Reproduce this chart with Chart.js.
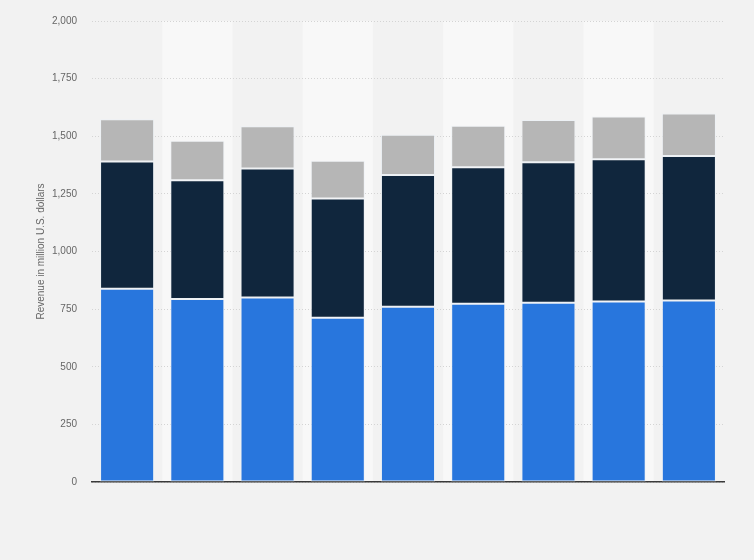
<!DOCTYPE html>
<html>
<head>
<meta charset="utf-8">
<script src="https://cdn.jsdelivr.net/npm/chart.js@4/dist/chart.umd.min.js"></script>
<style>
  html, body { margin: 0; padding: 0; background: #f2f2f2; }
  #wrap { width: 754px; height: 560px; }
</style>
</head>
<body>
<div id="wrap"><canvas id="chart"></canvas></div>
<script>
// 카테고리 (x축 라벨은 원본에서 표시되지 않음)
const categories = ['2012', '2013', '2014', '2015', '2016', '2017', '2018', '2019', '2020'];

// 각 시리즈 값 (million U.S. dollars)
const segmentA = [838, 794, 800, 713, 760, 773, 778, 783, 787];
const segmentB = [552, 515, 560, 517, 572, 592, 609, 617, 627];
const segmentC = [184, 172, 183, 164, 175, 181, 183, 186, 185];

const yTicks = [0, 250, 500, 750, 1000, 1250, 1500, 1750, 2000];

// 짝수 번째 카테고리 뒤에 밝은 배경 띠를 그리는 플러그인
const bandPlugin = {
    id: 'bands',
    beforeDraw(chart) {
        const { ctx, chartArea, scales } = chart;
        const x = scales.x;
        const step = (chartArea.right - chartArea.left) / categories.length;
        ctx.save();
        ctx.fillStyle = '#f8f8f8';
        categories.forEach((c, i) => {
            if (i % 2 === 1) {
                const cx = x.getPixelForValue(i);
                ctx.fillRect(cx - step / 2, chartArea.top, step, chartArea.bottom - chartArea.top);
            }
        });
        ctx.restore();
    }
};

const ctx = document.getElementById('chart').getContext('2d');
new Chart(ctx, {
    type: 'bar',
    data: {
        labels: categories,
        datasets: [
            { label: 'Segment A', data: segmentA, backgroundColor: '#2876dd' },
            { label: 'Segment B', data: segmentB, backgroundColor: '#10263d' },
            { label: 'Segment C', data: segmentC, backgroundColor: '#b6b6b6' }
        ].map(d => Object.assign(d, {
            borderColor: 'rgba(235,240,245,0.8)',
            borderWidth: 1,
            borderSkipped: false,
            barPercentage: 0.77,
            categoryPercentage: 1
        }))
    },
    options: {
        responsive: true,
        maintainAspectRatio: false,
        animation: false,
        layout: { padding: { top: 13, right: 30, bottom: 78, left: 0 } },
        scales: {
            x: {
                stacked: true,
                grid: { display: false, drawTicks: false },
                border: { display: true, color: '#3a3a3a', width: 1.5 },
                ticks: { display: false }
            },
            y: {
                stacked: true,
                min: 0,
                max: 2000,
                afterBuildTicks: axis => { axis.ticks = yTicks.map(v => ({ value: v })); },
                afterFit: axis => { axis.width = 92; },
                grid: { color: '#d4d4d4', drawTicks: false },
                border: { display: false, dash: [1, 2] },
                ticks: {
                    color: '#666666',
                    padding: 15,
                    font: { family: 'Liberation Sans', size: 10 },
                    callback: v => v.toLocaleString('en-US')
                },
                title: {
                    display: true,
                    text: 'Revenue in million U.S. dollars',
                    color: '#666666',
                    font: { family: 'Liberation Sans', size: 10 },
                    padding: { top: 35, bottom: 0 }
                }
            }
        },
        plugins: {
            legend: { display: false },
            tooltip: { enabled: false }
        }
    },
    plugins: [bandPlugin]
});
</script>
</body>
</html>
